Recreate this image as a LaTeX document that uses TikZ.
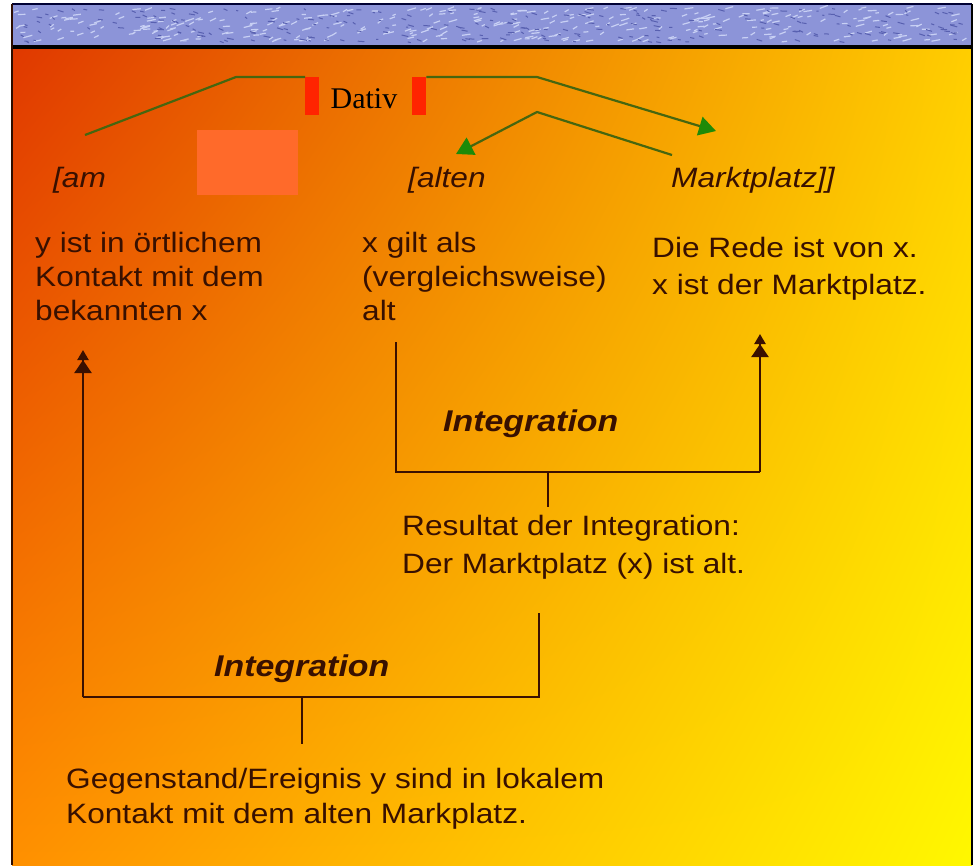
\documentclass[tikz,border=0pt]{standalone}
\usepackage{fontspec}
\setmainfont{Liberation Sans}[FakeStretch=1.13]
\newfontfamily\dativfont{Liberation Serif}
\usetikzlibrary{arrows.meta,shadings}
\definecolor{txt}{HTML}{381000}
\definecolor{brk}{HTML}{3A1000}
\definecolor{gline}{HTML}{46660F}
\definecolor{garrow}{HTML}{1E8A08}
\definecolor{redbar}{HTML}{FF2400}
\definecolor{sq}{HTML}{FF6A2A}
\definecolor{band}{HTML}{8C94D8}
\definecolor{bandlight}{HTML}{C8D0F4}
\definecolor{banddark}{HTML}{5860B0}
\definecolor{cul}{HTML}{E03800}
\definecolor{cur}{HTML}{FFCE00}
\definecolor{cll}{HTML}{FF9000}
\definecolor{clr}{HTML}{FFF800}
\begin{document}
\begin{tikzpicture}[x=1pt,y=-1pt,
  txtblock/.style={anchor=north west,inner sep=0pt,align=left,text=txt,
    font=\fontsize{28}{34}\selectfont},
  label/.style={anchor=north west,inner sep=0pt,text=txt,
    font=\fontsize{28}{34}\selectfont\itshape},
  integ/.style={anchor=north west,inner sep=0pt,text=txt,
    font=\fontsize{30}{34}\selectfont\bfseries\itshape},
  bracket/.style={draw=brk,line width=2.2pt},
  uparrow/.style={bracket,-{Triangle[length=13pt,width=17pt]Triangle[length=10pt,width=11pt]}},
  greenl/.style={draw=gline,line width=2.2pt},
  greena/.style={greenl,-{Triangle[length=17pt,width=19pt,fill=garrow,color=garrow]}},
  redbox/.style={fill=redbar,inner sep=0pt,minimum width=14pt,minimum height=38pt,anchor=north west}
]
\useasboundingbox (0,0) rectangle (980,865);
\fill[white] (0,0) rectangle (980,865);
% background gradient
\shade[upper left=cul,upper right=cur,lower left=cll,lower right=clr] (12,47) rectangle (972,865);
% textured band
\fill[band] (12,4) rectangle (972,47);
\pgfmathsetseed{7}
\foreach \i in {1,...,320}{
  \pgfmathsetmacro\xx{14+950*rnd}
  \pgfmathsetmacro\yy{8+34*rnd}
  \draw[bandlight,line width=1.2pt] (\xx,\yy) -- ++(3+6*rnd,-3*rnd);
}
\foreach \i in {1,...,240}{
  \pgfmathsetmacro\xx{14+950*rnd}
  \pgfmathsetmacro\yy{8+34*rnd}
  \draw[banddark,line width=1pt] (\xx,\yy) -- ++(2+5*rnd,2*rnd);
}
% frame
\draw[black!80!blue,line width=2pt] (12,4) -- (972,4);
\draw[black,line width=4pt] (12,47) -- (972,47);
\draw[brk!80!black,line width=2pt] (12,4) -- (12,865);
\draw[black,line width=2pt] (972,4) -- (972,865);
% light square
\fill[sq] (197,130) rectangle (298,195);

% Dativ
\node[redbox] (barL) at (305,77) {};
\node[redbox] (barR) at (412,77) {};
\node[inner sep=0pt,anchor=base,text=black,font=\fontsize{30}{34}\selectfont\dativfont] (dativ) at (364,108) {Dativ};

% top labels
\node[label] (am) at (53,167) {[am};
\node[label] (alten) at (408,167) {[alten};
\node[label] (markt) at (671,167) {Marktplatz]]};

% green connectors
\coordinate (g0) at (85,135);
\coordinate (g1) at (236,77);
\coordinate (g2) at (537,77);
\coordinate (g3) at (716,131);
\draw[greenl] (g0) -- (g1) -- (barL.north west);
\draw[greena] (barR.north east) -- (g2) -- (g3);
\coordinate (h0) at (672,155);
\coordinate (h1) at (537,112);
\coordinate (h2) at (456,154);
\draw[greena] (h0) -- (h1) -- (h2);

% text blocks
\node[txtblock] (t1) at (35,232) {y ist in örtlichem\\Kontakt mit dem\\bekannten x};
\node[txtblock] (t2) at (362,232) {x gilt als\\(vergleichsweise)\\alt};
\node[txtblock,font=\fontsize{28}{37}\selectfont] (t3) at (652,237) {Die Rede ist von x.\\x ist der Marktplatz.};

% upper integration bracket
\coordinate (u0) at (396,342);
\coordinate (u1) at (396,472);
\coordinate (u2) at (760,472);
\coordinate (u3) at (760,334);
\draw[bracket] (u0) -- (u1) -- (u2);
\draw[uparrow] (u2) -- (u3);
\node[integ] (i1) at (443,410) {Integration};
\coordinate (us) at (548,472);
\coordinate (usend) at (548,507);
\draw[bracket] (us) -- (usend);
\node[txtblock,font=\fontsize{28}{38}\selectfont] (res) at (402,515) {Resultat der Integration:\\Der Marktplatz (x) ist alt.};

% lower integration bracket
\coordinate (l0) at (539,613);
\coordinate (l1) at (539,697);
\coordinate (l2) at (83,697);
\coordinate (l3) at (83,350);
\draw[bracket] (l0) -- (l1) -- (l2);
\draw[uparrow] (l2) -- (l3);
\node[integ] (i2) at (214,655) {Integration};
\coordinate (ls) at (302,697);
\coordinate (lsend) at (302,744);
\draw[bracket] (ls) -- (lsend);
\node[txtblock,font=\fontsize{28}{35}\selectfont] (geg) at (66,768) {Gegenstand/Ereignis y sind in lokalem\\Kontakt mit dem alten Markplatz.};
\end{tikzpicture}
\end{document}
